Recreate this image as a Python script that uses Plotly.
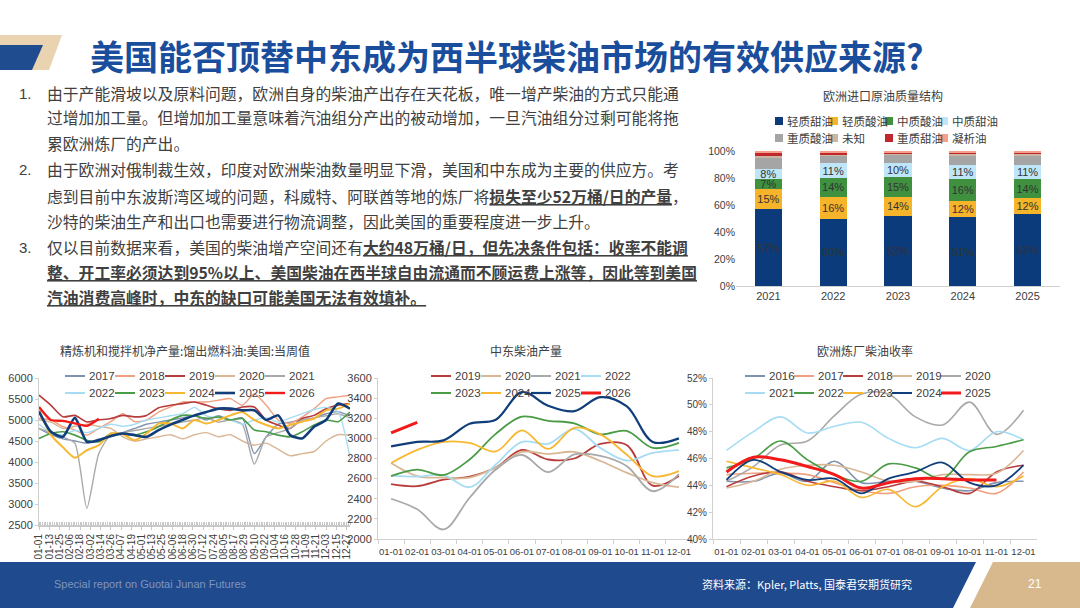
import pandas as pd
import plotly.graph_objects as go

W, H = 1080, 608


def px(x):
    return x / W


def py(y):
    return 1 - y / H


CJK = "Noto Sans CJK SC"
NUM = "Liberation Sans Narrow, Arial Narrow, Liberation Sans, Arial"
GREY_TXT = "#404040"
AXIS = "#D0D0D0"

# colour order used by all the seasonal charts
PALETTE = ["#7F92AE", "#F0A080", "#B83C3C", "#D9B795", "#A9A9A9",
           "#A6DDF3", "#4A9C46", "#F7B731", "#103E7B", "#F21A1A"]

# ---------------- 欧洲进口原油质量结构 (%)
bar_years = ["2021", "2022", "2023", "2024", "2025"]
grades = ["轻质甜油", "轻质酸油", "中质酸油", "中质甜油", "重质酸油", "未知", "重质甜油", "凝析油"]
light_sweet = [57, 50, 52, 51, 53]
light_sour = [15, 16, 14, 12, 12]
medium_sour = [7, 14, 15, 16, 14]
medium_sweet = [8, 11, 10, 11, 11]
heavy_sour = [8.5, 5.5, 6.5, 7, 7]
unknown = [0.5, 0.5, 0.5, 0.5, 0.5]
heavy_sweet = [3, 2, 1, 1.5, 1.5]
condensate = [1, 1, 1, 1, 1]
grade_colors = ["#0B3B7A", "#F5B42A", "#3F9140", "#BFE6F8",
                "#A5A5A5", "#C9B7A3", "#C0282E", "#F4A08A"]
labelled = [True, True, True, True, False, False, False, False]

# ---------------- 美国馏分油周度产量 (千桶/日), sampled every two weeks
week_dates = pd.date_range("2001-01-01", "2001-12-31", freq="14D")
us_years = ["2017", "2018", "2019", "2020", "2021", "2022", "2023", "2024", "2025", "2026"]
us_2017 = [4800, 4650, 4550, 4500, 4450, 4550, 4600, 4700, 4800, 4900, 4950, 5000, 5050, 5100,
           5000, 5100, 5000, 5050, 4200, 4600, 4900, 4950, 5000, 5050, 5150, 5200, 5100]
us_2018 = [5035, 5000, 4840, 4760, 4640, 4800, 4960, 5150, 4960, 5000, 5190, 5310, 5430, 5430,
           5430, 5470, 5510, 5350, 5620, 5350, 5000, 4920, 5070, 5270, 5510, 5550, 5590]
us_2019 = [5590, 5350, 5075, 5110, 4955, 5000, 5035, 5110, 5075, 5110, 5290, 5350, 5390, 5430,
           5350, 5270, 5230, 5310, 5310, 5000, 4880, 4800, 5035, 5110, 5270, 5350, 5390]
us_2020 = [5000, 4950, 4800, 4850, 4900, 4850, 4800, 4600, 4500, 4550, 4600, 4650, 4550, 4650,
           4700, 4600, 4650, 4500, 4400, 4450, 4300, 4150, 4200, 4250, 4500, 4650, 4640]
us_2021 = [4800, 4700, 4600, 4450, 2900, 4200, 4650, 4700, 4750, 4800, 4850, 4900, 4950, 5000,
           5050, 4950, 5000, 4900, 3950, 4600, 4700, 4800, 5000, 5050, 5100, 5150, 5050]
us_2022 = [4900, 4700, 4650, 4750, 4700, 4800, 4900, 4850, 4900, 5000, 5050, 5100, 5150, 5300,
           5100, 5050, 5000, 4900, 5000, 5050, 4950, 5050, 5150, 5250, 5300, 5200, 4100]
us_2023 = [4560, 4680, 4720, 4640, 4520, 4480, 4680, 4660, 4640, 4720, 4840, 5000, 5110, 5100,
           5035, 5070, 5000, 5035, 4760, 4720, 4640, 4600, 4720, 4880, 5000, 4960, 5190]
us_2024 = [5230, 4640, 4350, 4100, 4280, 4400, 4680, 4660, 4520, 4680, 4915, 4915, 4800, 5000,
           4915, 5000, 5110, 5190, 5000, 4880, 4800, 4880, 4960, 5035, 5230, 5270, 5390]
us_2025 = [5200, 4720, 4600, 5050, 4480, 4520, 4620, 4680, 4640, 4600, 4760, 4890, 5000, 5110,
           5190, 5270, 5270, 5230, 5230, 5000, 5110, 4640, 4560, 4840, 5000, 5390, 5270]
us_2026 = [5310, 5000, 4980, 4920, 4860, 5030]

# ---------------- 中东柴油产量 (千桶/日), monthly
months = ["01-01", "02-01", "03-01", "04-01", "05-01", "06-01",
          "07-01", "08-01", "09-01", "10-01", "11-01", "12-01"]
me_years = ["2019", "2020", "2021", "2022", "2023", "2024", "2025", "2026"]
me_2019 = [2545, 2525, 2590, 2620, 2710, 2885, 2790, 2800, 2945, 2935, 2530, 2625]
me_2020 = [2755, 2625, 2610, 2610, 2710, 2865, 2845, 2865, 2775, 2660, 2560, 2515]
me_2021 = [2400, 2295, 2095, 2410, 2690, 2835, 2665, 2840, 2825, 2725, 2475, 2645]
me_2022 = [2630, 2620, 2635, 2515, 2740, 2965, 2945, 3095, 2905, 2780, 2855, 2885]
me_2023 = [2625, 2690, 2635, 2790, 3045, 3215, 3175, 3150, 3040, 3075, 2905, 2955]
me_2024 = [2755, 2885, 2965, 2955, 2870, 3080, 2895, 3105, 3040, 2840, 2625, 2675]
me_2025 = [2920, 2965, 2980, 3145, 3185, 3460, 3325, 3270, 3410, 3320, 2965, 3000]
me_2026 = [3055, 3160]

# ---------------- 欧洲炼厂柴油收率 (%), monthly
eu_years = ["2016", "2017", "2018", "2019", "2020", "2021", "2022", "2023", "2024", "2025"]
eu_2016 = [44.3, 44.3, 44.9, 44.3, 45.8, 44.2, 44.3, 44.3, 43.8, 43.6, 44.2, 44.3]
eu_2017 = [44.8, 44.9, 44.9, 44.8, 44.2, 43.6, 43.4, 43.9, 44.0, 43.8, 43.4, 45.0]
eu_2018 = [43.9, 44.7, 45.0, 44.3, 43.9, 43.6, 43.9, 44.3, 43.9, 43.4, 45.0, 45.5]
eu_2019 = [43.8, 44.3, 45.2, 45.5, 45.5, 45.0, 44.3, 44.3, 44.8, 44.8, 44.9, 46.6]
eu_2020 = [44.3, 45.4, 47.0, 47.3, 49.2, 50.8, 50.8, 49.1, 48.5, 50.2, 47.8, 49.6]
eu_2021 = [46.6, 48.0, 49.1, 47.9, 48.4, 48.7, 47.5, 46.8, 47.5, 46.6, 48.0, 47.4]
eu_2022 = [45.3, 46.0, 47.3, 45.9, 44.8, 44.3, 45.6, 45.3, 44.5, 46.5, 46.9, 47.4]
eu_2023 = [45.8, 45.3, 44.8, 44.0, 44.3, 43.1, 43.7, 42.4, 43.9, 44.5, 43.9, 44.7]
eu_2024 = [44.4, 45.9, 45.0, 44.4, 44.5, 43.4, 44.5, 45.0, 45.7, 44.2, 44.0, 45.5]
eu_2025 = [45.0, 46.1, 45.9, 45.4, 44.8, 43.8, 44.2, 44.5, 44.5, 44.4, 44.4]

title = "美国能否顶替中东成为西半球柴油市场的有效供应来源?"
body = [
    ("1.", 93, "由于产能滑坡以及原料问题，欧洲自身的柴油产出存在天花板，唯一增产柴油的方式只能通"),
    ("", 118, "过增加加工量。但增加加工量意味着汽油组分产出的被动增加，一旦汽油组分过剩可能将拖"),
    ("", 144, "累欧洲炼厂的产出。"),
    ("2.", 170, "由于欧洲对俄制裁生效，印度对欧洲柴油数量明显下滑，美国和中东成为主要的供应方。考"),
    ("", 196, "虑到目前中东波斯湾区域的问题，科威特、阿联酋等地的炼厂将<b><u>损失至少52万桶/日的产量</u></b>，"),
    ("", 221, "沙特的柴油生产和出口也需要进行物流调整，因此美国的重要程度进一步上升。"),
    ("3.", 247, "仅以目前数据来看，美国的柴油增产空间还有<b><u>大约48万桶/日，但先决条件包括：收率不能调</u></b>"),
    ("", 272, "<b><u>整、开工率必须达到95%以上、美国柴油在西半球自由流通而不顾运费上涨等，因此等到美国</u></b>"),
    ("", 297, "<b><u>汽油消费高峰时，中东的缺口可能美国无法有效填补。</u></b>"),
]

fig = go.Figure()

# stacked bars
for name, vals, col, lab in zip(grades,
                                [light_sweet, light_sour, medium_sour, medium_sweet,
                                 heavy_sour, unknown, heavy_sweet, condensate],
                                grade_colors, labelled):
    fig.add_trace(go.Bar(
        x=bar_years, y=vals, name=name, marker=dict(color=col, line_width=0),
        text=[f"{v:.0f}%" for v in vals] if lab else None,
        textposition="inside", insidetextanchor="middle", textangle=0, constraintext="none",
        textfont=dict(family=NUM, size=11, color="#333333"),
        xaxis="x", yaxis="y", showlegend=False))

# US weekly distillate output
us_series = [us_2017, us_2018, us_2019, us_2020, us_2021, us_2022, us_2023, us_2024, us_2025, us_2026]
us_width = [1.4, 1.4, 1.6, 1.4, 1.4, 1.4, 1.6, 2.0, 2.6, 2.4]
for yr, vals, col, w in zip(us_years, us_series, PALETTE, us_width):
    fig.add_trace(go.Scatter(
        x=week_dates[:len(vals)], y=vals, name=yr, mode="lines",
        line=dict(color=col, width=w, shape="spline", smoothing=0.6),
        xaxis="x2", yaxis="y2", showlegend=False))

# Middle East diesel output
me_series = [me_2019, me_2020, me_2021, me_2022, me_2023, me_2024, me_2025, me_2026]
me_width = [1.8, 1.8, 1.8, 1.8, 1.8, 1.8, 2.2, 3.0]
for yr, vals, col, w in zip(me_years, me_series, PALETTE[2:], me_width):
    fig.add_trace(go.Scatter(
        x=months[:len(vals)], y=vals, name=yr, mode="lines",
        line=dict(color=col, width=w, shape="spline", smoothing=1.0),
        xaxis="x3", yaxis="y3", showlegend=False))

# European refinery diesel yield
eu_series = [eu_2016, eu_2017, eu_2018, eu_2019, eu_2020, eu_2021, eu_2022, eu_2023, eu_2024, eu_2025]
eu_width = [1.6, 1.6, 1.6, 1.6, 1.6, 1.6, 1.6, 1.6, 1.8, 3.0]
for yr, vals, col, w in zip(eu_years, eu_series, PALETTE, eu_width):
    fig.add_trace(go.Scatter(
        x=months[:len(vals)], y=vals, name=yr, mode="lines",
        line=dict(color=col, width=w, shape="spline", smoothing=1.0),
        xaxis="x4", yaxis="y4", showlegend=False))

tick_font = dict(family=NUM, size=9.5, color=GREY_TXT)
cat_x = dict(type="category", categoryorder="array", categoryarray=months, tickson="boundaries",
             range=[-0.5, len(months) - 0.5],
             ticks="outside", ticklen=4, tickcolor=AXIS, showline=True, linecolor=AXIS,
             showgrid=False, tickangle=0, tickfont=tick_font, automargin=False,
             ticklabelstandoff=4)
val_y = dict(showline=True, linecolor=AXIS, ticks="outside", ticklen=3, tickcolor=AXIS,
             showgrid=False, zeroline=False, automargin=False,
             tickfont=dict(family=NUM, size=11, color=GREY_TXT))

fig.update_layout(
    width=W, height=H, margin=dict(l=0, r=0, t=0, b=0, pad=0, autoexpand=False),
    paper_bgcolor="white", plot_bgcolor="white", showlegend=False,
    barmode="stack", bargap=0.58,
    xaxis=dict(domain=[px(736), px(1060)], anchor="y", showline=True, linecolor=AXIS, ticks="",
               tickfont=dict(family=NUM, size=11, color=GREY_TXT), showgrid=False, automargin=False),
    yaxis=dict(domain=[py(286), py(151)], anchor="x", range=[0, 100], dtick=20, ticksuffix="%",
               showline=False, showgrid=False, zeroline=False, automargin=False,
               tickfont=dict(family=NUM, size=10.5, color=GREY_TXT)),
    xaxis2=dict(domain=[px(39), px(350)], anchor="y2", type="date",
                range=["2001-01-01", "2001-12-31"], tick0="2001-01-01", dtick=12 * 86400000,
                tickformat="%m-%d", tickangle=-90, tickfont=dict(tick_font, size=10),
                showgrid=False, showline=True, linecolor="#C8C8C8", linewidth=2, ticks="outside",
                ticklen=3, tickcolor="#C8C8C8", automargin=False,
                minor=dict(dtick=2 * 86400000, ticks="inside", ticklen=3, tickcolor="#C8C8C8")),
    yaxis2=dict(val_y, domain=[py(525), py(378)], anchor="x2", range=[2500, 6000], dtick=500),
    xaxis3=dict(cat_x, domain=[px(378), px(692)], anchor="y3"),
    yaxis3=dict(val_y, domain=[py(539), py(378)], anchor="x3", range=[2000, 3600], dtick=200),
    xaxis4=dict(cat_x, domain=[px(713), px(1037)], anchor="y4"),
    yaxis4=dict(val_y, domain=[py(539), py(378)], anchor="x4", range=[40, 52], dtick=2,
                ticksuffix="%", tickfont=dict(family=NUM, size=10, color=GREY_TXT)),
)


def note(x, y, text, size=12, color=GREY_TXT, family=CJK, xanchor="left"):
    fig.add_annotation(x=px(x), y=py(y), xref="paper", yref="paper", text=text,
                       showarrow=False, xanchor=xanchor, yanchor="middle",
                       font=dict(family=family, size=size, color=color))


def legend(names, colors, widths, x0, step, rows_y, per_row, square=False):
    for k, (name, col, w) in enumerate(zip(names, colors, widths)):
        r, c = divmod(k, per_row)
        x, y = x0 + c * step, rows_y[r]
        if square:
            fig.add_shape(type="rect", xref="paper", yref="paper", x0=px(x), x1=px(x + 8),
                          y0=py(y + 4), y1=py(y - 4), fillcolor=col, line_width=0)
            note(x + 10, y, name, size=11.5)
        else:
            fig.add_shape(type="line", xref="paper", yref="paper", x0=px(x), x1=px(x + 20),
                          y0=py(y), y1=py(y), line=dict(color=col, width=max(w, 2)))
            note(x + 22, y, name, size=11.5, family=NUM)


# chart titles and legends
note(883, 95, "欧洲进口原油质量结构", xanchor="center")
legend(grades, grade_colors, [0] * 8, 775, 55, [121, 138], 4, square=True)
note(185, 350, "精炼机和搅拌机净产量:馏出燃料油:美国:当周值", xanchor="center")
legend(us_years, PALETTE, us_width, 65, 50, [376, 393], 5)
note(526, 350, "中东柴油产量", xanchor="center")
legend(me_years, PALETTE[2:], me_width, 431, 50, [376, 393], 4)
note(865, 350, "欧洲炼厂柴油收率", xanchor="center")
legend(eu_years, PALETTE, eu_width, 745, 49, [376, 393], 5)

# header
fig.add_shape(type="path", xref="paper", yref="paper", line_width=0, fillcolor="#E9D3B0",
              path=f"M0,{py(35)} L{px(62)},{py(35)} L{px(49)},{py(70)} L0,{py(70)} Z")
fig.add_shape(type="path", xref="paper", yref="paper", line_width=0, fillcolor="#1F4B8F",
              path=f"M0,{py(45)} L{px(43)},{py(45)} L{px(32)},{py(70)} L0,{py(70)} Z")
note(88, 55, f"<b>{title}</b>", size=34, color="#1A4E9C")

# body text
for num, y, line in body:
    if num:
        note(17, y, num, size=15, family="Liberation Sans, Arial")
    note(45, y, line, size=15.8)

# footer
fig.add_shape(type="path", xref="paper", yref="paper", line_width=0, fillcolor="#1F4A8E",
              path=f"M0,{py(562)} L{px(976)},{py(562)} L{px(953)},{py(608)} L0,{py(608)} Z")
fig.add_shape(type="path", xref="paper", yref="paper", line_width=0, fillcolor="#D8B98E",
              path=f"M{px(993)},{py(562)} L1,{py(562)} L1,{py(608)} L{px(970)},{py(608)} Z")
note(52, 584, "Special report on Guotai Junan Futures", size=11, color="#7F95BE", family=NUM)
note(700, 584, "资料来源：Kpler, Platts, 国泰君安期货研究", size=11, color="white")
note(1035, 584, "21", size=12, color="white", family=NUM, xanchor="center")

# the slide fills the page edge to edge
fig.write_html("out.html", config={"displayModeBar": False},
               post_script="document.body.style.margin = '0';")
